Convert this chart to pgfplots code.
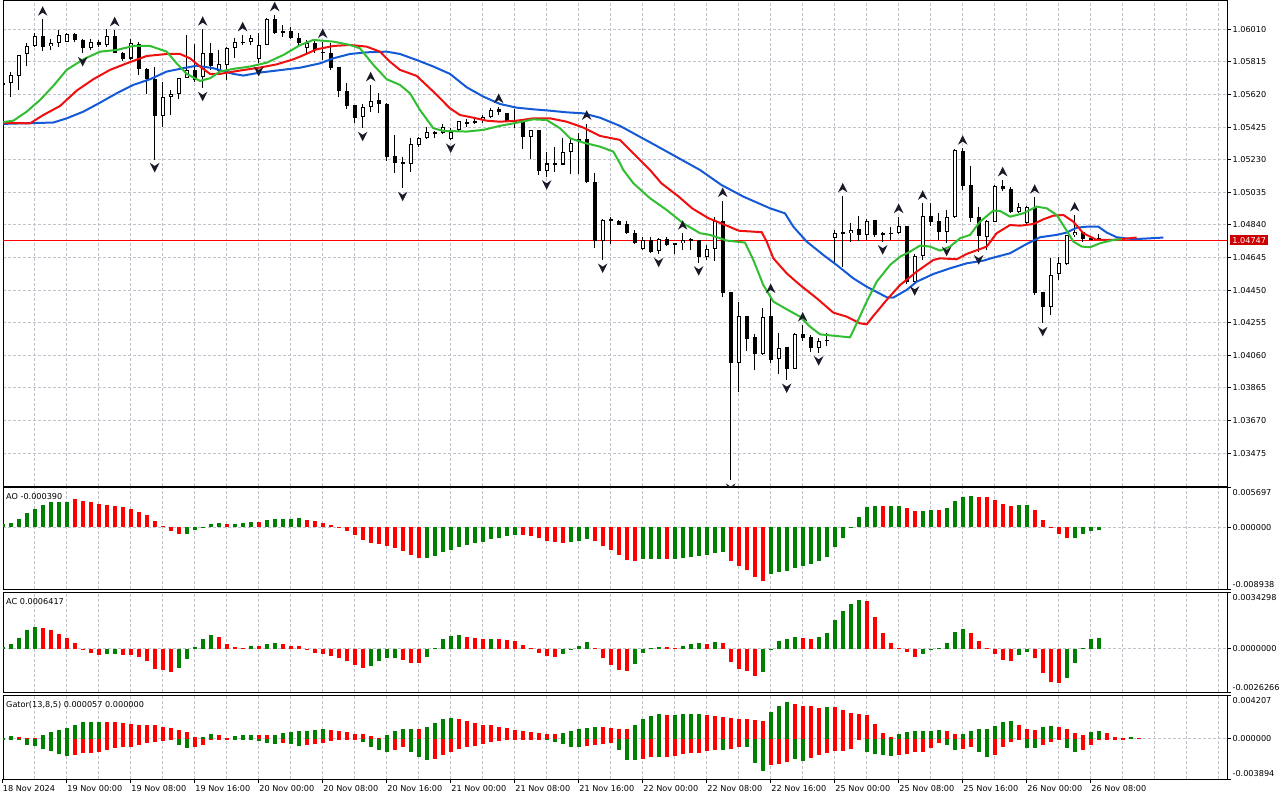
\documentclass[border=0pt]{standalone}
\usepackage{fontspec}
\setmainfont{DejaVu Sans}
\usepackage{pgfplots}
\usepackage{pgfplotstable}
\pgfplotsset{compat=1.18}

\definecolor{gridc}{RGB}{192,194,204}
\definecolor{jaw}{RGB}{20,90,215}
\definecolor{teeth}{RGB}{240,15,15}
\definecolor{lips}{RGB}{50,190,50}
\definecolor{hgreen}{RGB}{0,128,0}
\definecolor{hred}{RGB}{255,0,0}
\definecolor{pricered}{RGB}{204,0,0}
\definecolor{fract}{RGB}{25,25,40}

\newcommand\lbl{\fontsize{6.1}{7}\selectfont}

\pgfdeclareplotmark{fractup}{%
  \pgfpathmoveto{\pgfqpoint{0pt}{9.8pt}}%
  \pgfpathlineto{\pgfqpoint{-3.6pt}{2.6pt}}%
  \pgfpathlineto{\pgfqpoint{0pt}{5pt}}%
  \pgfpathlineto{\pgfqpoint{3.6pt}{2.6pt}}%
  \pgfpathclose\pgfusepathqfill}
\pgfdeclareplotmark{fractdn}{%
  \pgfpathmoveto{\pgfqpoint{0pt}{-9.8pt}}%
  \pgfpathlineto{\pgfqpoint{-3.6pt}{-2.6pt}}%
  \pgfpathlineto{\pgfqpoint{0pt}{-5pt}}%
  \pgfpathlineto{\pgfqpoint{3.6pt}{-2.6pt}}%
  \pgfpathclose\pgfusepathqfill}

\pgfplotsset{
  mt/.style={
    scale only axis, width=918pt, xmin=0.04, xmax=153.04,
    anchor=north west, clip mode=individual,
    axis line style={black, line width=0.75pt},
    xtick={4,8,...,152}, xticklabels={},
    xmajorgrids, ymajorgrids,
    major grid style={gridc, line width=0.75pt, dash pattern=on 2.25pt off 1.5pt},
    x tick style={draw=none},
    ytick pos=right, yticklabels={},
    y tick style={black, line width=0.75pt},
    tick align=outside, major tick length=3pt,
    scaled ticks=false,
  },
  hist/.style={ycomb, line width=3pt, mark=none, forget plot},
  candlebar/.style={forget plot, draw=none, mark=none,
    error bars/.cd, y dir=both, y explicit, error mark=none},
}

\pgfplotstableread{
k o h l c
0 1.05677 1.05691 1.05671 1.05687
1 1.05687 1.05757 1.05603 1.05737
2 1.05733 1.05856 1.05647 1.05856
3 1.05860 1.05930 1.05792 1.05910
4 1.05910 1.05986 1.05906 1.05970
5 1.05970 1.06070 1.05882 1.05906
6 1.05910 1.05950 1.05886 1.05926
7 1.05926 1.06006 1.05902 1.05976
8 1.05936 1.05990 1.05932 1.05982
9 1.05982 1.05986 1.05932 1.05946
10 1.05946 1.05950 1.05866 1.05896
11 1.05896 1.05950 1.05886 1.05932
12 1.05932 1.05946 1.05906 1.05916
13 1.05916 1.06010 1.05906 1.05970
14 1.05970 1.06006 1.05866 1.05866
15 1.05866 1.05876 1.05820 1.05836
16 1.05836 1.05950 1.05826 1.05926
17 1.05926 1.05934 1.05737 1.05771
18 1.05771 1.05777 1.05621 1.05713
19 1.05713 1.05787 1.05232 1.05493
20 1.05493 1.05697 1.05428 1.05607
21 1.05607 1.05647 1.05497 1.05621
22 1.05621 1.05717 1.05593 1.05717
23 1.05717 1.05976 1.05717 1.05767
24 1.05767 1.05926 1.05697 1.05707
25 1.05723 1.06010 1.05657 1.05866
26 1.05866 1.05930 1.05767 1.05792
27 1.05761 1.05890 1.05737 1.05800
28 1.05800 1.05906 1.05707 1.05896
29 1.05896 1.05956 1.05836 1.05932
30 1.05932 1.05976 1.05916 1.05934
31 1.05932 1.05976 1.05916 1.05956
32 1.05836 1.05986 1.05806 1.05916
33 1.05916 1.06076 1.05916 1.06070
34 1.06070 1.06096 1.05982 1.05990
35 1.06000 1.06036 1.05966 1.05992
36 1.06000 1.06026 1.05950 1.05956
37 1.05956 1.05986 1.05906 1.05926
38 1.05896 1.05946 1.05866 1.05926
39 1.05926 1.05946 1.05866 1.05886
40 1.05874 1.05936 1.05826 1.05870
41 1.05866 1.05926 1.05767 1.05781
42 1.05787 1.05787 1.05603 1.05643
43 1.05643 1.05687 1.05531 1.05551
44 1.05557 1.05557 1.05451 1.05483
45 1.05483 1.05563 1.05418 1.05543
46 1.05543 1.05677 1.05517 1.05581
47 1.05587 1.05631 1.05511 1.05561
48 1.05563 1.05567 1.05224 1.05248
49 1.05252 1.05378 1.05152 1.05212
50 1.05214 1.05248 1.05059 1.05202
51 1.05202 1.05358 1.05158 1.05324
52 1.05322 1.05368 1.05308 1.05362
53 1.05358 1.05424 1.05352 1.05394
54 1.05394 1.05404 1.05358 1.05388
55 1.05392 1.05441 1.05384 1.05428
56 1.05352 1.05422 1.05348 1.05394
57 1.05408 1.05463 1.05404 1.05461
58 1.05451 1.05471 1.05424 1.05455
59 1.05455 1.05475 1.05443 1.05461
60 1.05467 1.05497 1.05447 1.05487
61 1.05487 1.05541 1.05483 1.05531
62 1.05531 1.05547 1.05497 1.05517
63 1.05513 1.05513 1.05463 1.05463
64 1.05467 1.05537 1.05418 1.05463
65 1.05461 1.05463 1.05292 1.05364
66 1.05364 1.05408 1.05232 1.05408
67 1.05408 1.05408 1.05138 1.05164
68 1.05164 1.05278 1.05128 1.05208
69 1.05208 1.05308 1.05158 1.05202
70 1.05202 1.05358 1.05198 1.05274
71 1.05274 1.05358 1.05148 1.05328
72 1.05348 1.05388 1.05148 1.05354
73 1.05352 1.05447 1.05089 1.05099
74 1.05099 1.05148 1.04700 1.04746
75 1.04746 1.04879 1.04630 1.04873
76 1.04873 1.04889 1.04726 1.04863
77 1.04863 1.04869 1.04839 1.04843
78 1.04845 1.04865 1.04786 1.04790
79 1.04790 1.04809 1.04726 1.04730
80 1.04694 1.04770 1.04690 1.04750
81 1.04750 1.04770 1.04670 1.04680
82 1.04686 1.04760 1.04664 1.04754
83 1.04754 1.04770 1.04714 1.04720
84 1.04720 1.04734 1.04666 1.04730
85 1.04730 1.04790 1.04690 1.04750
86 1.04750 1.04760 1.04690 1.04752
87 1.04750 1.04750 1.04614 1.04646
88 1.04646 1.04720 1.04630 1.04696
89 1.04694 1.04889 1.04624 1.04865
90 1.04865 1.04985 1.04411 1.04435
91 1.04437 1.04441 1.03314 1.04016
92 1.04016 1.04381 1.03842 1.04295
93 1.04295 1.04295 1.04082 1.04161
94 1.04171 1.04187 1.03972 1.04068
95 1.04068 1.04345 1.04062 1.04291
96 1.04295 1.04411 1.04016 1.04032
97 1.04036 1.04197 1.03948 1.04102
98 1.04112 1.04112 1.03912 1.03978
99 1.03978 1.04195 1.03978 1.04191
100 1.04191 1.04241 1.04147 1.04167
101 1.04171 1.04181 1.04082 1.04106
102 1.04106 1.04161 1.04076 1.04145
103 1.04145 1.04191 1.04116 1.04155
104 1.04760 1.04813 1.04610 1.04790
105 1.04794 1.05013 1.04590 1.04796
106 1.04790 1.04853 1.04740 1.04813
107 1.04813 1.04893 1.04746 1.04780
108 1.04780 1.04873 1.04750 1.04865
109 1.04869 1.04873 1.04770 1.04780
110 1.04780 1.04800 1.04740 1.04790
111 1.04790 1.04829 1.04750 1.04792
112 1.04790 1.04889 1.04786 1.04835
113 1.04833 1.04833 1.04490 1.04500
114 1.04500 1.04666 1.04494 1.04654
115 1.04654 1.04969 1.04630 1.04893
116 1.04893 1.04969 1.04833 1.04859
117 1.04863 1.04909 1.04750 1.04796
118 1.04796 1.04929 1.04730 1.04885
119 1.04885 1.05298 1.04885 1.05288
120 1.05282 1.05298 1.05049 1.05075
121 1.05079 1.05192 1.04859 1.04879
122 1.04889 1.04949 1.04680 1.04770
123 1.04770 1.04869 1.04690 1.04865
124 1.04855 1.05079 1.04855 1.05073
125 1.05073 1.05109 1.05045 1.05053
126 1.05053 1.05065 1.04913 1.04919
127 1.04919 1.04969 1.04913 1.04945
128 1.04849 1.04953 1.04845 1.04945
129 1.04939 1.05005 1.04421 1.04431
130 1.04437 1.04437 1.04251 1.04347
131 1.04347 1.04646 1.04301 1.04540
132 1.04546 1.04650 1.04510 1.04610
133 1.04606 1.04780 1.04600 1.04780
134 1.04780 1.04899 1.04770 1.04796
135 1.04796 1.04796 1.04740 1.04754
136 1.04764 1.04774 1.04750 1.04750
137 1.04760 1.04784 1.04746 1.04747
}\candles

\pgfplotstableread{
k p
5 1.06070
14 1.06006
25 1.06010
30 1.05976
34 1.06096
40 1.05936
46 1.05677
62 1.05547
73 1.05447
85 1.04790
90 1.04985
96 1.04411
100 1.04241
105 1.05013
112 1.04889
115 1.04969
120 1.05298
125 1.05109
129 1.05005
134 1.04899
}\fractuptab

\pgfplotstableread{
k p
10 1.05866
19 1.05232
25 1.05657
32 1.05806
45 1.05418
50 1.05059
56 1.05348
68 1.05128
75 1.04630
82 1.04664
87 1.04614
91 1.03314
98 1.03912
102 1.04076
110 1.04740
114 1.04494
118 1.04730
122 1.04680
130 1.04251
}\fractdntab

\pgfplotstableread{
k v c
0 0.00043 1
1 0.00068 1
2 0.00121 1
3 0.00208 1
4 0.00266 1
5 0.00324 1
6 0.00367 1
7 0.00368 1
8 0.00369 1
9 0.00406 0
10 0.00382 0
11 0.00367 0
12 0.00338 0
13 0.00324 0
14 0.00304 0
15 0.00295 0
16 0.00261 0
17 0.00227 0
18 0.00179 0
19 0.00092 0
20 0.00019 0
21 -0.00048 0
22 -0.00097 0
23 -0.00095 1
24 -0.00034 1
25 0.00005 1
26 0.00043 1
27 0.00063 1
28 0.00048 0
29 0.00049 1
30 0.00063 1
31 0.00072 1
32 0.00077 0
33 0.00106 1
34 0.00121 1
35 0.00122 1
36 0.00123 1
37 0.00135 1
38 0.00106 0
39 0.00092 0
40 0.00063 0
41 0.00034 0
42 0.00005 0
43 -0.00048 0
44 -0.00111 0
45 -0.00184 0
46 -0.00227 0
47 -0.00242 0
48 -0.00270 0
49 -0.00299 0
50 -0.00343 0
51 -0.00401 0
52 -0.00440 0
53 -0.00439 1
54 -0.00411 1
55 -0.00353 1
56 -0.00324 1
57 -0.00280 1
58 -0.00251 1
59 -0.00222 1
60 -0.00208 1
61 -0.00164 1
62 -0.00150 1
63 -0.00121 1
64 -0.00106 1
65 -0.00107 0
66 -0.00121 0
67 -0.00150 0
68 -0.00193 0
69 -0.00208 0
70 -0.00222 0
71 -0.00208 1
72 -0.00193 1
73 -0.00164 1
74 -0.00193 0
75 -0.00266 0
76 -0.00324 0
77 -0.00396 0
78 -0.00469 0
79 -0.00483 0
80 -0.00454 1
81 -0.00453 1
82 -0.00452 1
83 -0.00454 0
84 -0.00453 1
85 -0.00440 1
86 -0.00425 1
87 -0.00411 1
88 -0.00396 1
89 -0.00367 1
90 -0.00353 1
91 -0.00483 0
92 -0.00555 0
93 -0.00613 0
94 -0.00715 0
95 -0.00773 0
96 -0.00671 1
97 -0.00642 1
98 -0.00628 1
99 -0.00584 1
100 -0.00555 1
101 -0.00526 1
102 -0.00483 1
103 -0.00425 1
104 -0.00280 1
105 -0.00150 1
106 0.00003 1
107 0.00150 1
108 0.00295 1
109 0.00309 1
110 0.00308 0
111 0.00309 1
112 0.00310 1
113 0.00280 0
114 0.00237 0
115 0.00238 1
116 0.00251 1
117 0.00250 0
118 0.00280 1
119 0.00382 1
120 0.00440 1
121 0.00454 1
122 0.00440 0
123 0.00439 0
124 0.00396 0
125 0.00338 0
126 0.00309 0
127 0.00324 1
128 0.00325 1
129 0.00251 0
130 0.00106 0
131 0.00005 0
132 -0.00097 0
133 -0.00155 0
134 -0.00154 1
135 -0.00097 1
136 -0.00053 1
137 -0.00039 1
}\aotab

\pgfplotstableread{
k v c
0 0.00012 1
1 0.00026 1
2 0.00067 1
3 0.00111 1
4 0.00129 1
5 0.00123 0
6 0.00111 0
7 0.00087 0
8 0.00063 0
9 0.00032 0
10 -0.00010 0
11 -0.00028 0
12 -0.00040 0
13 -0.00034 1
14 -0.00033 1
15 -0.00040 0
16 -0.00041 0
17 -0.00053 0
18 -0.00077 0
19 -0.00125 0
20 -0.00131 0
21 -0.00143 0
22 -0.00119 1
23 -0.00065 1
24 0.00012 1
25 0.00057 1
26 0.00081 1
27 0.00069 0
28 0.00026 0
29 0.00008 0
30 0.00006 0
31 0.00014 1
32 0.00013 0
33 0.00026 1
34 0.00032 1
35 0.00026 0
36 0.00014 0
37 0.00013 0
38 -0.00010 0
39 -0.00028 0
40 -0.00034 0
41 -0.00046 0
42 -0.00059 0
43 -0.00077 0
44 -0.00101 0
45 -0.00119 0
46 -0.00107 1
47 -0.00077 1
48 -0.00059 1
49 -0.00058 1
50 -0.00071 0
51 -0.00089 0
52 -0.00090 0
53 -0.00053 1
54 0.00002 1
55 0.00057 1
56 0.00075 1
57 0.00081 1
58 0.00069 0
59 0.00063 0
60 0.00057 0
61 0.00058 1
62 0.00057 0
63 0.00051 0
64 0.00044 0
65 0.00020 0
66 0.00006 0
67 -0.00028 0
68 -0.00046 0
69 -0.00053 0
70 -0.00034 1
71 -0.00010 1
72 0.00014 1
73 0.00038 1
74 0.00006 0
75 -0.00059 0
76 -0.00101 0
77 -0.00131 0
78 -0.00137 0
79 -0.00095 1
80 -0.00028 1
81 0.00004 1
82 0.00008 1
83 0.00007 0
84 0.00002 0
85 0.00014 1
86 0.00026 1
87 0.00032 1
88 0.00026 0
89 0.00038 1
90 0.00032 0
91 -0.00083 0
92 -0.00125 0
93 -0.00137 0
94 -0.00168 0
95 -0.00143 1
96 -0.00004 1
97 0.00044 1
98 0.00057 1
99 0.00069 1
100 0.00063 0
101 0.00057 0
102 0.00069 1
103 0.00093 1
104 0.00172 1
105 0.00226 1
106 0.00269 1
107 0.00293 1
108 0.00287 0
109 0.00190 0
110 0.00093 0
111 0.00032 0
112 0.00002 0
113 -0.00020 0
114 -0.00053 0
115 -0.00034 1
116 -0.00010 1
117 0.00006 1
118 0.00032 1
119 0.00099 1
120 0.00117 1
121 0.00093 0
122 0.00044 0
123 0.00002 0
124 -0.00034 0
125 -0.00071 0
126 -0.00077 0
127 -0.00040 1
128 -0.00020 1
129 -0.00059 0
130 -0.00149 0
131 -0.00204 0
132 -0.00210 0
133 -0.00180 1
134 -0.00089 1
135 0.00006 1
136 0.00057 1
137 0.00064 1
}\actab

\pgfplotstableread{
k u uc d dc
0 0.00010 1 -0.00006 1
1 0.00029 1 -0.00010 1
2 0.00016 0 -0.00016 1
3 0.00006 0 -0.00064 1
4 0.00002 0 -0.00074 1
5 0.00039 1 -0.00096 1
6 0.00068 1 -0.00122 1
7 0.00087 1 -0.00151 1
8 0.00106 1 -0.00170 1
9 0.00135 1 -0.00161 0
10 0.00164 1 -0.00141 0
11 0.00164 1 -0.00141 0
12 0.00164 1 -0.00132 0
13 0.00164 0 -0.00113 0
14 0.00164 0 -0.00093 0
15 0.00154 0 -0.00084 0
16 0.00145 0 -0.00084 0
17 0.00135 0 -0.00064 0
18 0.00135 0 -0.00045 0
19 0.00135 0 -0.00035 0
20 0.00116 0 -0.00026 0
21 0.00106 0 -0.00006 0
22 0.00087 0 -0.00064 1
23 0.00068 0 -0.00093 1
24 0.00019 0 -0.00084 0
25 0.00019 1 -0.00064 0
26 0.00048 1 -0.00016 0
27 0.00039 0 -0.00010 0
28 0.00010 0 -0.00003 0
29 0.00029 1 -0.00010 1
30 0.00039 1 -0.00010 1
31 0.00039 1 -0.00010 1
32 0.00039 0 -0.00026 1
33 0.00039 0 -0.00045 1
34 0.00039 1 -0.00055 1
35 0.00058 1 -0.00045 0
36 0.00068 1 -0.00055 1
37 0.00077 1 -0.00074 1
38 0.00077 1 -0.00064 0
39 0.00087 1 -0.00055 0
40 0.00096 1 -0.00045 0
41 0.00087 0 -0.00026 0
42 0.00077 0 -0.00016 0
43 0.00068 0 -0.00010 0
44 0.00048 0 -0.00010 0
45 0.00048 0 -0.00035 1
46 0.00029 0 -0.00084 1
47 0.00010 0 -0.00113 1
48 0.00039 1 -0.00132 1
49 0.00077 1 -0.00113 0
50 0.00096 1 -0.00084 0
51 0.00096 1 -0.00132 1
52 0.00096 0 -0.00180 1
53 0.00116 1 -0.00209 1
54 0.00154 1 -0.00199 0
55 0.00193 1 -0.00161 0
56 0.00203 1 -0.00132 0
57 0.00193 0 -0.00103 0
58 0.00174 0 -0.00084 0
59 0.00154 0 -0.00074 0
60 0.00135 0 -0.00055 0
61 0.00135 0 -0.00035 0
62 0.00116 0 -0.00026 0
63 0.00106 0 -0.00016 0
64 0.00087 0 -0.00006 0
65 0.00077 0 -0.00006 0
66 0.00068 0 -0.00006 0
67 0.00058 0 -0.00003 0
68 0.00048 0 -0.00016 1
69 0.00048 0 -0.00035 1
70 0.00058 1 -0.00055 1
71 0.00077 1 -0.00084 1
72 0.00096 1 -0.00084 1
73 0.00106 1 -0.00074 0
74 0.00116 1 -0.00064 0
75 0.00116 0 -0.00055 0
76 0.00106 0 -0.00045 0
77 0.00096 0 -0.00113 1
78 0.00096 0 -0.00209 1
79 0.00135 1 -0.00209 1
80 0.00193 1 -0.00199 0
81 0.00222 1 -0.00180 0
82 0.00241 1 -0.00180 1
83 0.00231 0 -0.00180 0
84 0.00231 1 -0.00170 0
85 0.00241 1 -0.00151 0
86 0.00241 1 -0.00141 0
87 0.00241 1 -0.00141 0
88 0.00231 0 -0.00122 0
89 0.00222 0 -0.00113 0
90 0.00212 0 -0.00113 1
91 0.00203 0 -0.00103 0
92 0.00193 0 -0.00084 0
93 0.00193 0 -0.00084 1
94 0.00183 0 -0.00238 1
95 0.00174 0 -0.00315 1
96 0.00260 1 -0.00257 0
97 0.00318 1 -0.00248 0
98 0.00357 1 -0.00228 0
99 0.00338 0 -0.00199 1
100 0.00318 0 -0.00219 1
101 0.00318 0 -0.00190 0
102 0.00299 0 -0.00161 0
103 0.00309 1 -0.00141 0
104 0.00309 0 -0.00122 0
105 0.00280 0 -0.00122 0
106 0.00251 0 -0.00103 0
107 0.00241 0 -0.00016 0
108 0.00231 0 -0.00132 1
109 0.00145 0 -0.00151 1
110 0.00058 0 -0.00161 1
111 0.00019 0 -0.00170 1
112 0.00048 1 -0.00161 0
113 0.00068 1 -0.00151 0
114 0.00077 1 -0.00132 0
115 0.00077 1 -0.00132 0
116 0.00077 1 -0.00093 0
117 0.00087 1 -0.00045 0
118 0.00077 0 -0.00064 1
119 0.00048 0 -0.00113 1
120 0.00048 1 -0.00103 0
121 0.00077 1 -0.00084 0
122 0.00096 1 -0.00132 1
123 0.00096 1 -0.00180 1
124 0.00125 1 -0.00161 0
125 0.00164 1 -0.00084 0
126 0.00174 1 -0.00035 0
127 0.00135 0 -0.00016 0
128 0.00096 0 -0.00093 1
129 0.00087 0 -0.00093 1
130 0.00116 1 -0.00064 0
131 0.00125 1 -0.00035 0
132 0.00116 0 -0.00006 0
133 0.00096 0 -0.00093 1
134 0.00058 0 -0.00132 1
135 0.00039 0 -0.00113 0
136 0.00068 1 -0.00064 0
137 0.00077 1 -0.00016 0
138 0.00058 0 -0.00010 0
139 0.00019 0 -0.00003 0
140 0.00010 0 -0.00002 0
141 0.00019 1 0 0
142 0.00006 0 0 0
}\gatortab

\begin{document}
\begin{tikzpicture}
\useasboundingbox[fill=white] (0,0) rectangle (960pt,600pt);

% ---------------- main price panel ----------------
\begin{axis}[mt, at={(2.25pt,599.25pt)}, height=363.75pt,
  ymin=1.03278, ymax=1.06179,
  ytick={1.03475,1.03670,1.03865,1.04060,1.04255,1.04450,1.04645,1.04840,1.05035,1.05230,1.05425,1.05620,1.05815,1.06010}]
% current price line
\addplot[forget plot, red, line width=0.75pt] coordinates {(0.04,1.04747) (153.04,1.04747)};
% wicks
\addplot[candlebar, error bar style={draw=black, solid, line width=0.75pt}]
  table[x=k, y expr={(\thisrow{h}+\thisrow{l})/2}, y error expr={(\thisrow{h}-\thisrow{l})/2}] {\candles};
% bodies (outline / black fill)
\addplot[candlebar, error bar style={draw=black, solid, line width=3.2pt}]
  table[x=k, y expr={(\thisrow{o}+\thisrow{c})/2}, y error expr={max(abs(\thisrow{o}-\thisrow{c})/2,0.00003)}] {\candles};
% white interior of rising candles
\addplot[restrict expr to domain={\thisrow{c}-\thisrow{o}}{0.000001:1},
  candlebar, error bar style={draw=white, solid, line width=1.6pt}]
  table[x=k, y expr={(\thisrow{o}+\thisrow{c})/2}, y error expr={max(abs(\thisrow{o}-\thisrow{c})/2-0.00006,0)}] {\candles};
% Alligator
\addplot[forget plot, jaw, line width=1.5pt] coordinates {
(0.08,1.05444) (6.33,1.05452) (8,1.05477) (10.08,1.05517) (12.17,1.05571) (14.25,1.05627) (16.33,1.05677) (18.42,1.05711) (20.5,1.05757) (22.58,1.05777) (24.25,1.05792) (26.33,1.05777) (28.83,1.05743) (30.08,1.05733) (32.17,1.05751) (34.25,1.05763) (37.17,1.05780) (39.67,1.05806) (41.33,1.05836) (43.41,1.05862) (45.5,1.05872) (48,1.05876) (49.66,1.05862) (51.75,1.05826) (53.83,1.05787) (55.91,1.05743) (58,1.05663) (60.08,1.05607) (62.16,1.05563) (64.25,1.05541) (66.33,1.05531) (68.41,1.05523) (70.5,1.05513) (72.58,1.05507) (74.66,1.05481) (77.16,1.05432) (82.2,1.05300) (87.17,1.05168) (89.83,1.05079) (92.58,1.05009) (95.92,1.04939) (97.79,1.04909) (98.83,1.04829) (100.5,1.04740) (102.58,1.04660) (104.25,1.04600) (106.33,1.04520) (108,1.04470) (110.5,1.04407) (111.33,1.04405) (113,1.04451) (114.25,1.04500) (116.33,1.04546) (118.42,1.04580) (120.5,1.04610) (122.58,1.04626) (123.83,1.04644) (125.92,1.04670) (128,1.04726) (129.67,1.04766) (131.75,1.04780) (133,1.04794) (134.25,1.04823) (135.5,1.04829) (136.96,1.04829) (138,1.04794) (139.25,1.04766) (141.33,1.04754) (145.08,1.04764)};
\addplot[forget plot, teeth, line width=1.5pt] coordinates {
(0.08,1.05451) (3.42,1.05447) (5.08,1.05497) (7.17,1.05551) (9.25,1.05643) (11.33,1.05711) (13.42,1.05767) (15.5,1.05806) (18,1.05850) (20.5,1.05862) (22.17,1.05862) (23.42,1.05836) (24.67,1.05787) (25.92,1.05743) (27.17,1.05743) (29.67,1.05763) (32.17,1.05781) (34.25,1.05800) (36.33,1.05830) (37.16,1.05846) (39.25,1.05890) (41.33,1.05910) (43.41,1.05916) (45.5,1.05906) (47.16,1.05876) (48.41,1.05816) (49.66,1.05767) (51.75,1.05731) (53.83,1.05637) (55.91,1.05537) (57.16,1.05497) (58.83,1.05481) (60.5,1.05463) (62.16,1.05457) (64.25,1.05463) (66.33,1.05477) (68.41,1.05477) (70.5,1.05457) (72.58,1.05422) (74.66,1.05372) (77.16,1.05348) (80.92,1.05168) (82.33,1.05089) (84.5,1.05009) (86.17,1.04939) (88.25,1.04879) (90.33,1.04839) (92,1.04805) (94.88,1.04796) (95.5,1.04740) (96.33,1.04640) (98,1.04550) (99.67,1.04480) (101.75,1.04401) (103.83,1.04315) (105.5,1.04291) (107.17,1.04251) (108,1.04245) (108.83,1.04295) (110.5,1.04391) (112.17,1.04480) (114.25,1.04560) (116.33,1.04630) (117.17,1.04640) (119.25,1.04634) (120.5,1.04666) (123,1.04710) (124.25,1.04790) (125.92,1.04839) (127.17,1.04835) (128.83,1.04845) (130.08,1.04873) (131.33,1.04895) (132.58,1.04899) (133.83,1.04859) (135.08,1.04790) (136.75,1.04750) (138.83,1.04750) (141.75,1.04764)};
\addplot[forget plot, lips, line width=1.5pt] coordinates {
(0.08,1.05455) (1.33,1.05463) (3,1.05517) (4.67,1.05587) (6.33,1.05671) (8,1.05767) (10.08,1.05830) (12.17,1.05876) (14.25,1.05886) (16.33,1.05910) (18.42,1.05910) (20.5,1.05876) (21.75,1.05806) (23,1.05743) (24.67,1.05701) (25.92,1.05717) (27.17,1.05757) (28.83,1.05773) (30.92,1.05787) (33,1.05810) (35.08,1.05856) (37.17,1.05915) (38.83,1.05946) (41.33,1.05936) (43.41,1.05916) (44.66,1.05896) (46.33,1.05797) (48,1.05711) (49.66,1.05677) (50.91,1.05627) (52.16,1.05527) (53.83,1.05418) (55.08,1.05402) (58,1.05398) (60.08,1.05408) (62.16,1.05432) (64.25,1.05451) (66.33,1.05471) (68,1.05467) (69.66,1.05418) (70.91,1.05358) (72.58,1.05332) (74.66,1.05308) (76.33,1.05278) (77.16,1.05208) (77.58,1.05168) (78.83,1.05089) (80.92,1.04999) (83,1.04929) (85.08,1.04849) (87.17,1.04790) (88.42,1.04780) (90.5,1.04746) (92.79,1.04734) (93.83,1.04630) (95.08,1.04480) (96.33,1.04381) (98,1.04335) (99.67,1.04291) (100.92,1.04231) (102.17,1.04185) (103.83,1.04177) (105.92,1.04167) (106.75,1.04251) (108,1.04381) (109.25,1.04500) (110.92,1.04600) (112.17,1.04650) (113.42,1.04680) (114.67,1.04716) (115.92,1.04710) (117.17,1.04686) (118.42,1.04710) (119.67,1.04760) (120.92,1.04780) (122.17,1.04859) (123.83,1.04925) (124.67,1.04923) (125.92,1.04889) (127.58,1.04909) (129.25,1.04949) (130.5,1.04939) (131.75,1.04899) (133,1.04805) (133.83,1.04740) (134.88,1.04710) (135.92,1.04706) (137.17,1.04730) (138.83,1.04750) (139.88,1.04754)};
% fractals
\addplot[forget plot, only marks, mark=fractup, fract, clip marker paths=true] table[x=k,y=p] {\fractuptab};
\addplot[forget plot, only marks, mark=fractdn, fract, clip marker paths=true] table[x=k,y=p] {\fractdntab};
% price scale labels
\pgfplotsinvokeforeach{1.03475,1.03670,1.03865,1.04060,1.04255,1.04450,1.04645,1.04840,1.05035,1.05230,1.05425,1.05620,1.05815,1.06010}{
  \node[font=\lbl, anchor=west, inner sep=0pt, xshift=4pt] at (axis cs:153.04,#1) {#1};
}
\node[font=\lbl, anchor=west, fill=pricered, text=white, inner xsep=1.6pt, inner ysep=1.5pt, xshift=2.25pt] at (axis cs:153.04,1.04747) {1.04747};
\end{axis}

% ---------------- AO ----------------
\begin{axis}[mt, at={(2.25pt,234pt)}, height=75.75pt,
  ymin=-0.008938, ymax=0.005697, ytick={-0.008938,0,0.005697}]
\addplot[hist, hgreen, restrict expr to domain={\thisrow{c}}{0.5:1.5}] table[x=k,y=v] {\aotab};
\addplot[hist, hred, restrict expr to domain={\thisrow{c}}{-0.5:0.5}] table[x=k,y=v] {\aotab};
\node[font=\lbl, anchor=base west, inner sep=0pt, xshift=2.2pt, yshift=-8.9pt] at (rel axis cs:0,1) {AO -0.000390};
\node[font=\lbl, anchor=west, inner sep=0pt, xshift=4pt] at (axis cs:153.04,0) {0.000000};
\node[font=\lbl, anchor=west, inner sep=0pt, xshift=4pt, yshift=-3.3pt] at (rel axis cs:1,1) {0.005697};
\node[font=\lbl, anchor=west, inner sep=0pt, xshift=4pt, yshift=3.6pt] at (rel axis cs:1,0) {-0.008938};
\end{axis}

% ---------------- AC ----------------
\begin{axis}[mt, at={(2.25pt,156pt)}, height=75pt,
  ymin=-0.0026266, ymax=0.0034298, ytick={-0.0026266,0,0.0034298}]
\addplot[hist, hgreen, restrict expr to domain={\thisrow{c}}{0.5:1.5}] table[x=k,y=v] {\actab};
\addplot[hist, hred, restrict expr to domain={\thisrow{c}}{-0.5:0.5}] table[x=k,y=v] {\actab};
\node[font=\lbl, anchor=base west, inner sep=0pt, xshift=2.2pt, yshift=-9.2pt] at (rel axis cs:0,1) {AC 0.0006417};
\node[font=\lbl, anchor=west, inner sep=0pt, xshift=4pt] at (axis cs:153.04,0) {0.0000000};
\node[font=\lbl, anchor=west, inner sep=0pt, xshift=4pt, yshift=-4pt] at (rel axis cs:1,1) {0.0034298};
\node[font=\lbl, anchor=west, inner sep=0pt, xshift=4pt, yshift=3.3pt] at (rel axis cs:1,0) {-0.0026266};
\end{axis}

% ---------------- Gator ----------------
\begin{axis}[mt, at={(2.25pt,78.75pt)}, height=63pt,
  ymin=-0.003894, ymax=0.004207, ytick={-0.003894,0,0.004207}]
\addplot[hist, hgreen, restrict expr to domain={\thisrow{uc}}{0.5:1.5}] table[x=k,y=u] {\gatortab};
\addplot[hist, hred, restrict expr to domain={\thisrow{uc}}{-0.5:0.5}] table[x=k,y=u] {\gatortab};
\addplot[hist, hgreen, restrict expr to domain={\thisrow{dc}}{0.5:1.5}] table[x=k,y=d] {\gatortab};
\addplot[hist, hred, restrict expr to domain={\thisrow{dc}}{-0.5:0.5}] table[x=k,y=d] {\gatortab};
\node[font=\lbl, anchor=base west, inner sep=0pt, xshift=2.2pt, yshift=-9.5pt] at (rel axis cs:0,1) {Gator(13,8,5) 0.000057 0.000000};
\node[font=\lbl, anchor=west, inner sep=0pt, xshift=4pt] at (axis cs:153.04,0) {0.000000};
\node[font=\lbl, anchor=west, inner sep=0pt, xshift=4pt, yshift=-4pt] at (rel axis cs:1,1) {0.004207};
\node[font=\lbl, anchor=west, inner sep=0pt, xshift=4pt, yshift=4pt] at (rel axis cs:1,0) {-0.003894};
\pgfplotsinvokeforeach{0,8,16,24,32,40,48,56,64,72,80,88,96,104,112,120,128,136}{
  \draw[black, line width=0.75pt] (axis cs:#1,-0.003894) -- ++(0pt,-3pt);
}
\node[font=\lbl, anchor=base west, inner sep=0pt, yshift=-9.5pt] at (axis cs:0,-0.003894) {18 Nov 2024};
\node[font=\lbl, anchor=base west, inner sep=0pt, xshift=0.4pt, yshift=-9.5pt] at (axis cs:8,-0.003894) {19 Nov 00:00};
\node[font=\lbl, anchor=base west, inner sep=0pt, xshift=0.4pt, yshift=-9.5pt] at (axis cs:16,-0.003894) {19 Nov 08:00};
\node[font=\lbl, anchor=base west, inner sep=0pt, xshift=0.4pt, yshift=-9.5pt] at (axis cs:24,-0.003894) {19 Nov 16:00};
\node[font=\lbl, anchor=base west, inner sep=0pt, xshift=0.4pt, yshift=-9.5pt] at (axis cs:32,-0.003894) {20 Nov 00:00};
\node[font=\lbl, anchor=base west, inner sep=0pt, xshift=0.4pt, yshift=-9.5pt] at (axis cs:40,-0.003894) {20 Nov 08:00};
\node[font=\lbl, anchor=base west, inner sep=0pt, xshift=0.4pt, yshift=-9.5pt] at (axis cs:48,-0.003894) {20 Nov 16:00};
\node[font=\lbl, anchor=base west, inner sep=0pt, xshift=0.4pt, yshift=-9.5pt] at (axis cs:56,-0.003894) {21 Nov 00:00};
\node[font=\lbl, anchor=base west, inner sep=0pt, xshift=0.4pt, yshift=-9.5pt] at (axis cs:64,-0.003894) {21 Nov 08:00};
\node[font=\lbl, anchor=base west, inner sep=0pt, xshift=0.4pt, yshift=-9.5pt] at (axis cs:72,-0.003894) {21 Nov 16:00};
\node[font=\lbl, anchor=base west, inner sep=0pt, xshift=0.4pt, yshift=-9.5pt] at (axis cs:80,-0.003894) {22 Nov 00:00};
\node[font=\lbl, anchor=base west, inner sep=0pt, xshift=0.4pt, yshift=-9.5pt] at (axis cs:88,-0.003894) {22 Nov 08:00};
\node[font=\lbl, anchor=base west, inner sep=0pt, xshift=0.4pt, yshift=-9.5pt] at (axis cs:96,-0.003894) {22 Nov 16:00};
\node[font=\lbl, anchor=base west, inner sep=0pt, xshift=0.4pt, yshift=-9.5pt] at (axis cs:104,-0.003894) {25 Nov 00:00};
\node[font=\lbl, anchor=base west, inner sep=0pt, xshift=0.4pt, yshift=-9.5pt] at (axis cs:112,-0.003894) {25 Nov 08:00};
\node[font=\lbl, anchor=base west, inner sep=0pt, xshift=0.4pt, yshift=-9.5pt] at (axis cs:120,-0.003894) {25 Nov 16:00};
\node[font=\lbl, anchor=base west, inner sep=0pt, xshift=0.4pt, yshift=-9.5pt] at (axis cs:128,-0.003894) {26 Nov 00:00};
\node[font=\lbl, anchor=base west, inner sep=0pt, xshift=0.4pt, yshift=-9.5pt] at (axis cs:136,-0.003894) {26 Nov 08:00};
\end{axis}
\end{tikzpicture}
\end{document}
